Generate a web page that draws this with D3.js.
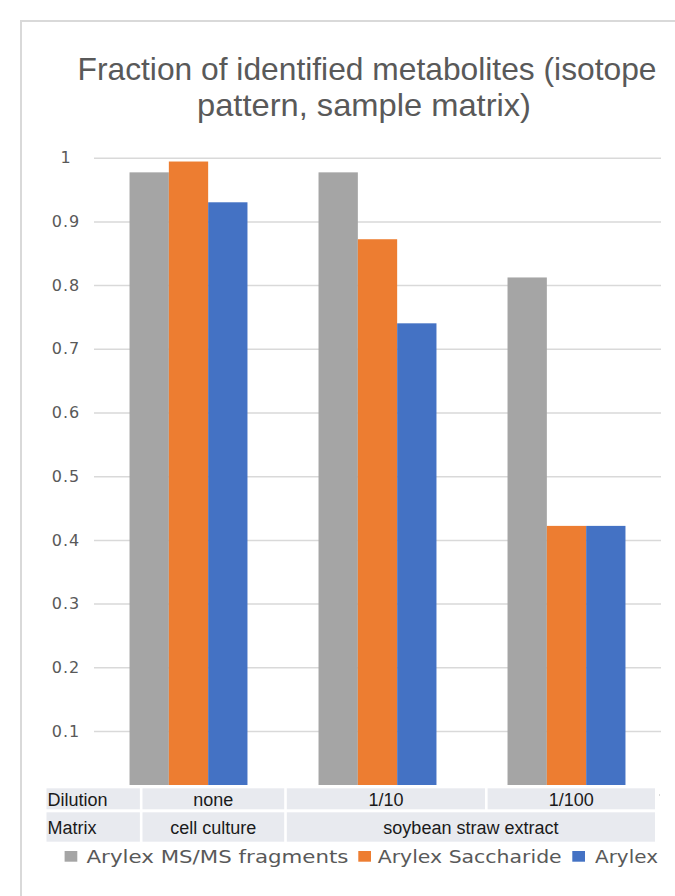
<!DOCTYPE html>
<html><head><meta charset="utf-8">
<script src="https://cdn.jsdelivr.net/npm/d3@7"></script>
<style>body{margin:0;background:#fff}svg{display:block}</style>
</head><body>
<script>
// ---- data ----
const categories = ["none", "1/10", "1/100"];
const seriesNames = ["Arylex MS/MS fragments", "Arylex Saccharide", "Arylex"];
const msmsValues = [0.977, 0.977, 0.812];
const saccharideValues = [0.994, 0.872, 0.422];
const arylexValues = [0.930, 0.740, 0.422];
const yTickValues = [0.1, 0.2, 0.3, 0.4, 0.5, 0.6, 0.7, 0.8, 0.9, 1];
const yTickLabels = ["0.1", "0.2", "0.3", "0.4", "0.5", "0.6", "0.7", "0.8", "0.9", "1"];
const tableRowLabels = ["Dilution", "Matrix"];
const dilutionRow = ["none", "1/10", "1/100"];
const matrixRow = ["cell culture", "soybean straw extract"];
const matrixSpans = [1, 2];
const titleLines = ["Fraction of identified metabolites (isotope", "pattern, sample matrix)"];

const seriesValues = [msmsValues, saccharideValues, arylexValues];
const colors = ["#a5a5a5", "#ed7d31", "#4472c4"];

// ---- layout ----
const W = 675, H = 896;
const plotLeft = 94, plotRight = 661, plotTop = 157.7, plotZero = 794.7;
const barBottom = 785;

const svg = d3.select("body").append("svg").attr("width", W).attr("height", H);

svg.append("rect").attr("x", 21).attr("y", 21).attr("width", 720).attr("height", 920)
  .attr("fill", "#fff").attr("stroke", "#d9d9d9").attr("stroke-width", 2);

// title
const title = svg.append("g").attr("font-family", "'Liberation Sans', Arial, sans-serif")
  .attr("fill", "#595959").attr("font-size", 31.5).attr("text-anchor", "middle");
title.append("text").attr("x", 367).attr("y", 80).text(titleLines[0])
  .attr("textLength", 579).attr("lengthAdjust", "spacingAndGlyphs");
title.append("text").attr("x", 364).attr("y", 116).text(titleLines[1])
  .attr("textLength", 334).attr("lengthAdjust", "spacingAndGlyphs");

// scales
const x0 = d3.scaleBand().domain(categories).range([plotLeft, plotRight])
  .paddingInner(0.376).paddingOuter(0.188);
const x1 = d3.scaleBand().domain(d3.range(seriesNames.length)).range([0, x0.bandwidth()]);
const y = d3.scaleLinear().domain([0, 1]).range([plotZero, plotTop]);

// gridlines + labels
const yAxis = d3.axisLeft(y).tickValues(yTickValues)
  .tickFormat((d, i) => yTickLabels[i])
  .tickSize(-(plotRight - plotLeft)).tickPadding(28);
const ga = svg.append("g").attr("transform", `translate(${plotLeft},0)`).call(yAxis);
ga.select(".domain").remove();
ga.selectAll(".tick line").attr("stroke", "#d9d9d9").attr("stroke-width", 1.5);
ga.selectAll(".tick text").attr("fill", "#595959").attr("font-size", 16)
  .attr("text-anchor", "middle").attr("letter-spacing", 1)
  .attr("font-family", "'DejaVu Sans', Verdana, sans-serif");

// bars
const groups = svg.append("g").selectAll("g").data(categories).join("g")
  .attr("transform", d => `translate(${x0(d)},0)`);
groups.selectAll("rect").data((d, ci) => seriesValues.map((vals, si) => ({ si, v: vals[ci] })))
  .join("rect")
  .attr("x", d => x1(d.si))
  .attr("width", x1.bandwidth())
  .attr("y", d => y(d.v))
  .attr("height", d => barBottom - y(d.v))
  .attr("fill", d => colors[d.si]);

// data table
const tableEdges = [46.5, 142.5, 286.8, 487.6, 655];
const gap = 2.6;
const rowsY = [[788.3, 809.3], [812.3, 841.7]];
const baselines = [806, 834];
const tbl = svg.append("g").attr("font-family", "'Liberation Sans', Arial, sans-serif")
  .attr("font-size", 18).attr("fill", "#1a1a1a");
function cell(x0c, x1c, r, text, anchor) {
  tbl.append("rect").attr("x", x0c).attr("y", rowsY[r][0]).attr("width", x1c - x0c)
    .attr("height", rowsY[r][1] - rowsY[r][0]).attr("fill", "#e8eaef");
  const t = tbl.append("text").attr("y", baselines[r]).text(text);
  if (anchor === "start") t.attr("x", x0c + 1).attr("text-anchor", "start");
  else t.attr("x", (x0c + x1c) / 2).attr("text-anchor", "middle");
}
tableRowLabels.forEach((lab, r) => cell(tableEdges[0], tableEdges[1] - gap, r, lab, "start"));
dilutionRow.forEach((lab, i) => cell(tableEdges[i + 1], tableEdges[i + 2] - (i < 2 ? gap : 0), 0, lab, "middle"));
let ci = 0;
matrixRow.forEach((lab, i) => {
  const s = tableEdges[ci + 1];
  ci += matrixSpans[i];
  const e = tableEdges[ci + 1] - (ci < 3 ? gap : 0);
  cell(s, e, 1, lab, "middle");
});
svg.append("line").attr("x1", 659.5).attr("x2", 659.5).attr("y1", 794).attr("y2", 796)
  .attr("stroke", "#d9d9d9").attr("stroke-width", 1);

// legend
const legendItems = [
  { sq: 64.6, tx: 86.5, tl: 262 },
  { sq: 358.3, tx: 377.7, tl: 184 },
  { sq: 572.3, tx: 595, tl: 63 }
];
const lg = svg.append("g").attr("font-family", "'DejaVu Sans', Verdana, sans-serif")
  .attr("font-size", 17).attr("fill", "#595959");
seriesNames.forEach((name, i) => {
  const it = legendItems[i];
  lg.append("rect").attr("x", it.sq).attr("y", 851).attr("width", 12.7).attr("height", 10.7)
    .attr("fill", colors[i]);
  lg.append("text").attr("x", it.tx).attr("y", 862.5).text(name)
    .attr("textLength", it.tl).attr("lengthAdjust", "spacingAndGlyphs");
});
</script>
</body></html>
